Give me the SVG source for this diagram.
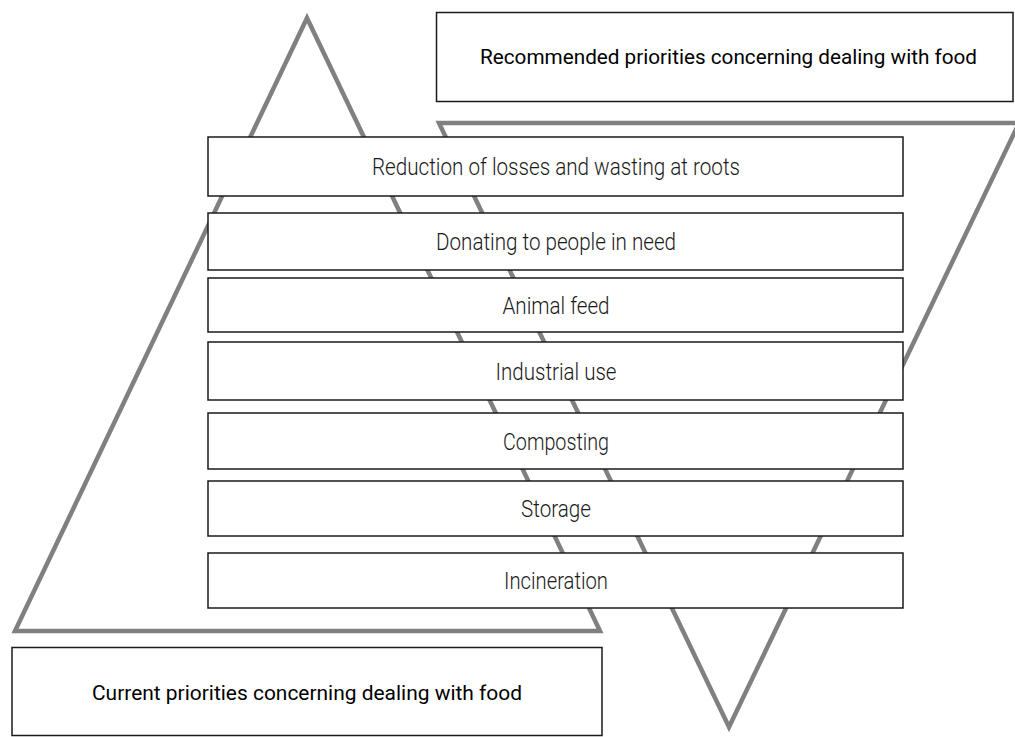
<svg xmlns="http://www.w3.org/2000/svg" width="1015" height="737" viewBox="0 0 1015 737">
<style>
.tri{fill:none;stroke:#808080;stroke-width:4.5;stroke-linejoin:miter}
.box{fill:#fff;stroke:#1a1a1a;stroke-width:1.5}
.lbl{font-family:Roboto,"Liberation Sans",sans-serif;font-weight:300;font-size:24px;fill:#1a1a1a;text-anchor:middle}
.ttl{font-family:Roboto,"Liberation Sans",sans-serif;font-weight:400;font-size:21px;fill:#000;text-anchor:middle}
</style>
<rect width="1015" height="737" fill="#fff"/>
<g id="connectors">
<polygon id="current-pyramid" class="tri" points="307,18 600,631 15,631"/>
<polygon id="recommended-pyramid" class="tri" points="439,123 1019,123 729,727"/>
</g>
<g id="title-recommended">
<rect class="box" x="436.5" y="12.5" width="576.5" height="89"/>
<text class="ttl" x="728.5" y="64" textLength="497" lengthAdjust="spacingAndGlyphs">Recommended priorities concerning dealing with food</text>
</g>
<g id="title-current">
<rect class="box" x="12" y="647.5" width="590" height="88"/>
<text class="ttl" x="307" y="699.5" textLength="430" lengthAdjust="spacingAndGlyphs">Current priorities concerning dealing with food</text>
</g>
<g id="reduction">
<rect class="box" x="208" y="137" width="695" height="59"/>
<text class="lbl" x="556" y="175" textLength="368" lengthAdjust="spacingAndGlyphs">Reduction of losses and wasting at roots</text>
</g>
<g id="donating">
<rect class="box" x="208" y="213" width="695" height="57"/>
<text class="lbl" x="556" y="250" textLength="240" lengthAdjust="spacingAndGlyphs">Donating to people in need</text>
</g>
<g id="animal-feed">
<rect class="box" x="208" y="278" width="695" height="54"/>
<text class="lbl" x="556" y="313.5" textLength="107" lengthAdjust="spacingAndGlyphs">Animal feed</text>
</g>
<g id="industrial-use">
<rect class="box" x="208" y="342" width="695" height="58"/>
<text class="lbl" x="556" y="379.5" textLength="121" lengthAdjust="spacingAndGlyphs">Industrial use</text>
</g>
<g id="composting">
<rect class="box" x="208" y="413" width="695" height="56"/>
<text class="lbl" x="556" y="449.5" textLength="106" lengthAdjust="spacingAndGlyphs">Composting</text>
</g>
<g id="storage">
<rect class="box" x="208" y="481" width="695" height="55"/>
<text class="lbl" x="556" y="517" textLength="70" lengthAdjust="spacingAndGlyphs">Storage</text>
</g>
<g id="incineration">
<rect class="box" x="208" y="553" width="695" height="55"/>
<text class="lbl" x="556" y="589" textLength="104" lengthAdjust="spacingAndGlyphs">Incineration</text>
</g>
</svg>
